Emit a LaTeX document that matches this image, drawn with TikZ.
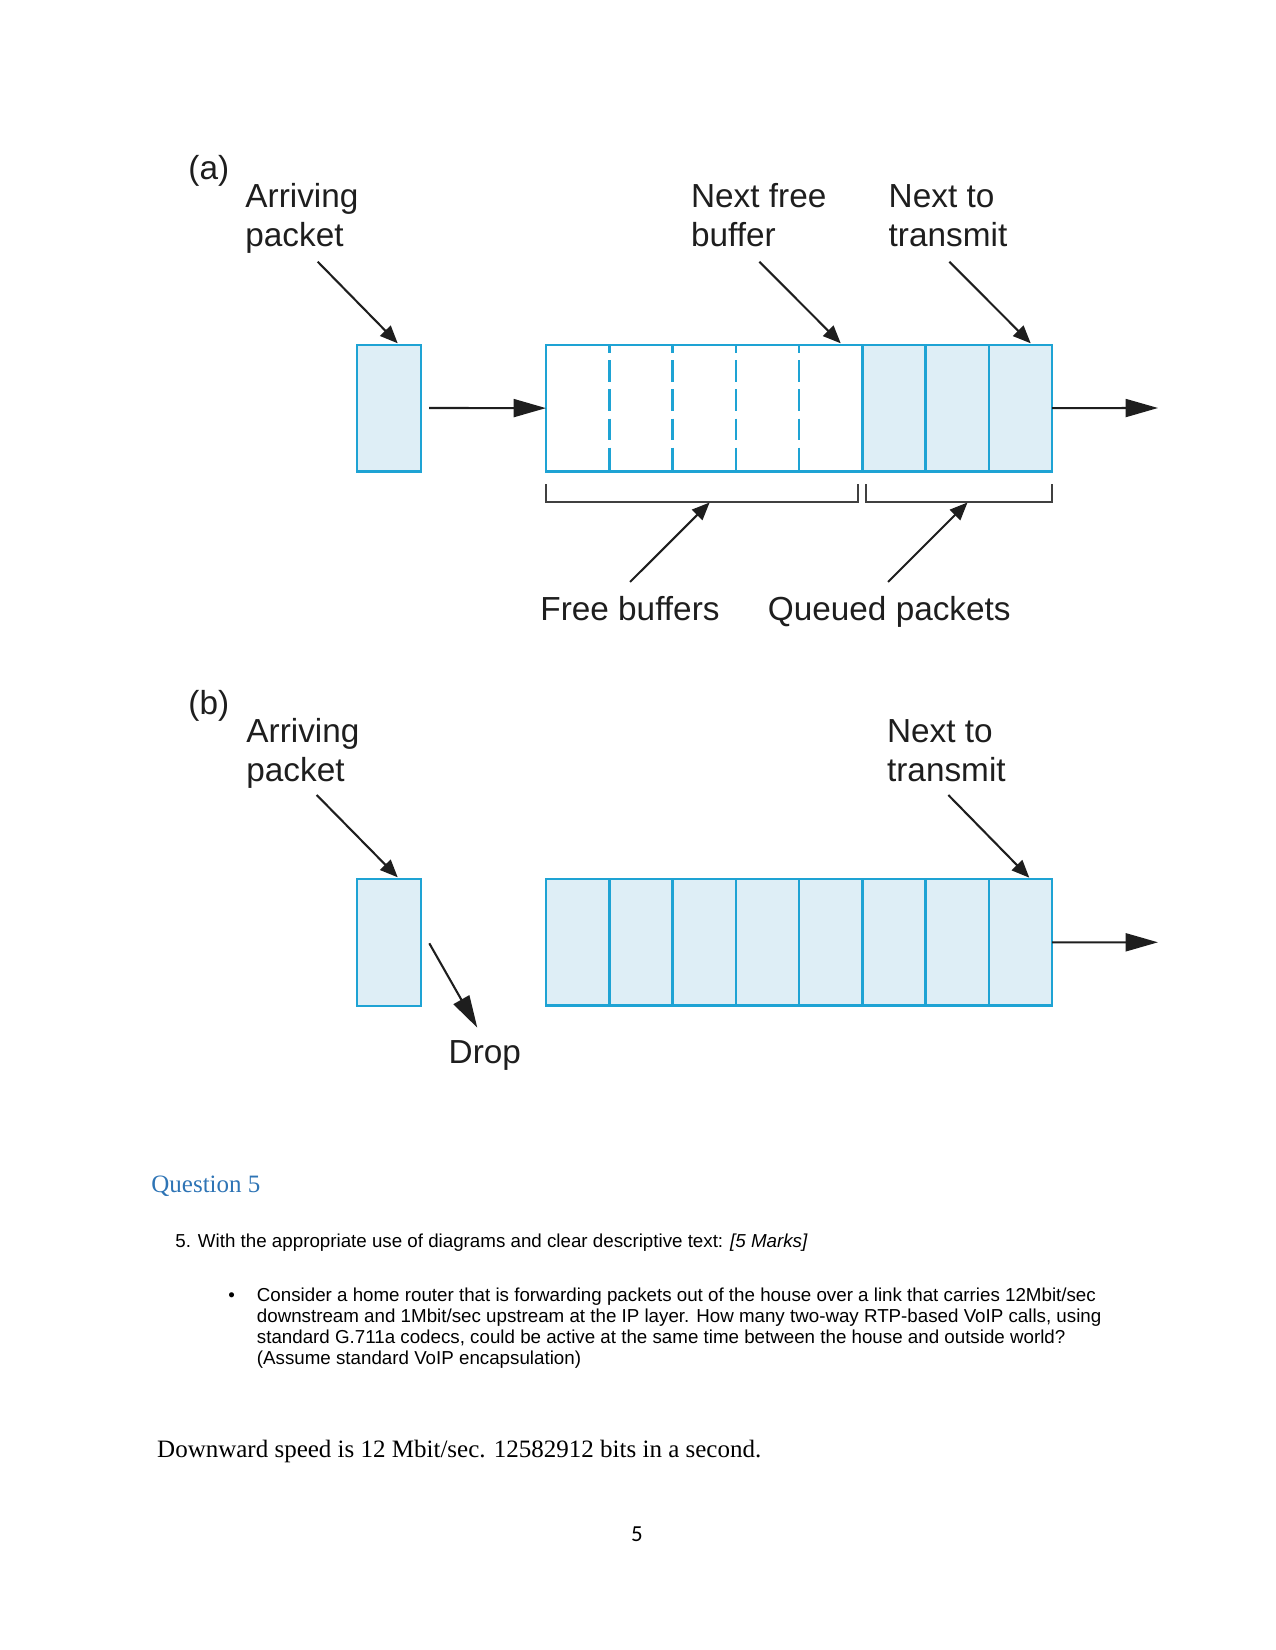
\documentclass[tikz,border=0pt]{standalone}
\usepackage{fontspec}
\setmainfont{Liberation Sans}
\newfontfamily\serifF{Liberation Serif}
\newfontfamily\calF{Carlito}
\usetikzlibrary{arrows.meta}
\definecolor{qline}{RGB}{30,163,212}
\definecolor{qfill}{RGB}{222,238,246}
\definecolor{headblue}{RGB}{46,116,181}
\definecolor{ink}{RGB}{30,30,30}
\begin{document}
\begin{tikzpicture}[x=0.48pt,y=-0.48pt,
  lbl/.style={anchor=base west,inner sep=0pt,text=ink,font=\fontsize{16}{18.7}\selectfont},
  qtxt/.style={anchor=base west,inner sep=0pt,font=\fontsize{9}{10}\selectfont},
  bigarrow/.style={draw=ink,line width=1pt,-{Triangle[length=15.5pt,width=8.6pt]}},
  diagarrow/.style={draw=ink,line width=1pt,-{Triangle[length=8.5pt,width=7pt]}},
  brk/.style={draw=ink!85,line width=1pt},
  pkt/.style={draw=qline,line width=1.2pt,fill=qfill,minimum width=30.72pt,minimum height=60.8pt,inner sep=0pt,outer sep=0pt,anchor=north west},
  queue/.style={draw=qline,line width=1.2pt,minimum width=242.88pt,minimum height=60.6pt,inner sep=0pt,outer sep=0pt,anchor=north west},
  divs/.style={draw=qline,line width=1.2pt},
  dashdiv/.style={draw=qline,line width=1.2pt,dash pattern=on 10.5pt off 3.5pt,dash phase=6.7pt}
]
\useasboundingbox (0,0) rectangle (1275,1650);

% ---------------- (a) ----------------
\node[lbl] (la) at (188,180) {(a)};
\node[lbl] (arrA1) at (245,208) {Arriving};
\node[lbl] (arrA2) at (245,247) {packet};
\node[lbl] (nfb1) at (690.7,208) {Next free};
\node[lbl] (nfb2) at (690.7,247) {buffer};
\node[lbl] (ntA1) at (888.3,208) {Next to};
\node[lbl] (ntA2) at (888.3,247) {transmit};

\node[pkt] (pa) at (357,345) {};
\fill[qfill] (861.9,345) rectangle (1052,471.2);
\node[queue] (qa) at (546,345) {};
\foreach \k in {1,...,4} \draw[dashdiv] ({546+\k*63.25},345) -- ({546+\k*63.25},471.2);
\foreach \k in {5,6,7} \draw[divs] ({546+\k*63.25},345) -- ({546+\k*63.25},471.2);

\coordinate (arrAs) at (317.7,261.7);
\coordinate (arrAe) at (397.7,343.3);
\coordinate (nfbs) at (759.3,261.7);
\coordinate (nfbe) at (840.7,343.3);
\coordinate (ntAs) at (949.3,261.7);
\coordinate (ntAe) at (1030.7,343.3);
\draw[diagarrow] (arrAs) -- (arrAe);
\draw[diagarrow] (nfbs) -- (nfbe);
\draw[diagarrow] (ntAs) -- (ntAe);

\coordinate (inA) at (429,408);
\coordinate (outA) at (1158,408);
\draw[bigarrow] (inA) -- (qa.west);
\draw[bigarrow] (qa.east) -- (outA);

% brackets
\draw[brk] (546,484) -- (546,502) -- (858,502) -- (858,484);
\draw[brk] (866.4,484) -- (866.4,502) -- (1052,502) -- (1052,484);
\coordinate (fbs) at (630,582);
\coordinate (fbe) at (709.6,502.5);
\coordinate (qps) at (888,582);
\coordinate (qpe) at (967.5,502.5);
\draw[diagarrow] (fbs) -- (fbe);
\draw[diagarrow] (qps) -- (qpe);
\node[lbl] (fb) at (540,620) {Free buffers};
\node[lbl] (qp) at (767.5,620) {Queued packets};

% ---------------- (b) ----------------
\node[lbl] (lb) at (188,714) {(b)};
\node[lbl] (arrB1) at (246,742) {Arriving};
\node[lbl] (arrB2) at (246,781) {packet};
\node[lbl] (ntB1) at (886.7,742) {Next to};
\node[lbl] (ntB2) at (886.7,781) {transmit};

\node[pkt] (pb) at (357,879.2) {};
\fill[qfill] (546,879.2) rectangle (1052,1005.4);
\node[queue] (qb) at (546,879.2) {};
\foreach \k in {1,...,7} \draw[divs] ({546+\k*63.25},879.2) -- ({546+\k*63.25},1005.4);

\coordinate (arrBs) at (316.7,795);
\coordinate (arrBe) at (397.7,877.3);
\coordinate (ntBs) at (948.3,795);
\coordinate (ntBe) at (1029.3,877.7);
\draw[diagarrow] (arrBs) -- (arrBe);
\draw[diagarrow] (ntBs) -- (ntBe);

\coordinate (outB) at (1158,942.3);
\draw[bigarrow] (qb.east) -- (outB);
\coordinate (dropS) at (429.3,943.3);
\coordinate (dropE) at (477.3,1027.7);
\draw[bigarrow] (dropS) -- (dropE);
\node[lbl] (drop) at (448.3,1063.3) {Drop};

% ---------------- text ----------------
\node[anchor=base west,inner sep=0pt,text=headblue,font=\serifF\fontsize{12}{14}\selectfont] (q5) at (151,1192) {Question 5};
\node[qtxt] (qtitle) at (175,1247) {5. With the appropriate use of diagrams and clear descriptive text: \textit{[5 Marks]}};
\node[qtxt] (bul) at (228,1301) {•};
\node[qtxt] (ql1) at (256.5,1301) {Consider a home router that is forwarding packets out of the house over a link that carries 12Mbit/sec};
\node[qtxt] (ql2) at (256.5,1322) {downstream and 1Mbit/sec upstream at the IP layer. How many two-way RTP-based VoIP calls, using};
\node[qtxt] (ql3) at (256.5,1343) {standard G.711a codecs, could be active at the same time between the house and outside world?};
\node[qtxt] (ql4) at (256.5,1364) {(Assume standard VoIP encapsulation)};
\node[anchor=base west,inner sep=0pt,font=\serifF\fontsize{12}{14}\selectfont] (ans) at (156.8,1457) {Downward speed is 12 Mbit/sec. 12582912 bits in a second.};
\node[anchor=base,inner sep=0pt,font=\calF\fontsize{11}{13}\selectfont] (pg) at (637,1541) {5};
\end{tikzpicture}
\end{document}
